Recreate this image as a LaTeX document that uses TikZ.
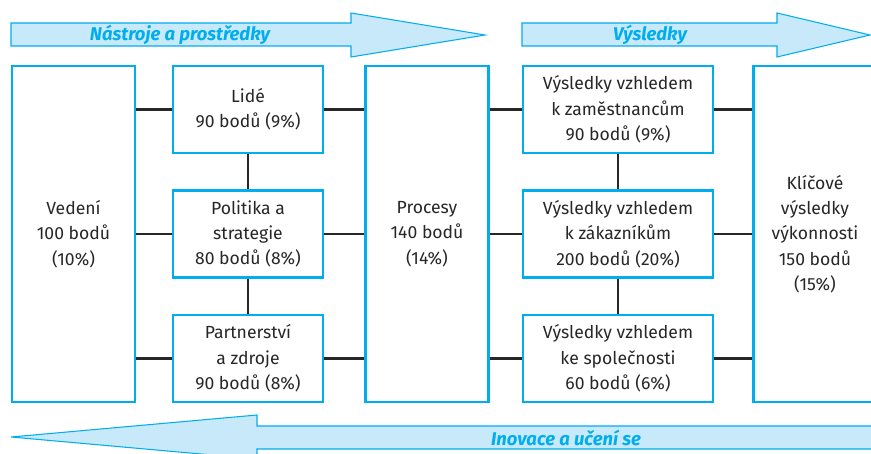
\documentclass[tikz,border=0pt]{standalone}
\usepackage{fontspec}
\setmainfont{Fira Sans}
\usetikzlibrary{positioning}

\definecolor{efqmcyan}{RGB}{0,174,239}
\definecolor{efqmfill}{RGB}{199,233,250}
\definecolor{efqmtext}{RGB}{40,38,38}

\begin{document}
\begin{tikzpicture}[
		crit/.style={draw=efqmcyan, line width=1.4pt, fill=white, align=center, text=efqmtext,
			inner sep=0pt, font=\fontsize{10}{14.4}\selectfont},
		tall/.style={crit, minimum width=2.46cm, minimum height=6.72cm},
		small/.style={crit, minimum width=3.0cm, minimum height=1.74cm},
		wide/.style={crit, minimum width=3.8cm, minimum height=1.74cm},
		link/.style={draw=efqmtext, line width=1.3pt},
		band/.style={draw=efqmcyan, line width=0.6pt, fill=efqmfill},
		bandtext/.style={text=efqmcyan, font=\fontsize{10.5}{12}\selectfont\bfseries\itshape}
	]
		\useasboundingbox (0, 0) rectangle (17.42, 9.06);
		\clip (0, 0) rectangle (17.42, 9.06);
		
		% block arrows
		\draw[band] (0.22, 8.14) -- (0.22, 8.60) -- (7.02, 8.60) -- (7.02, 8.80) -- (9.70, 8.36) -- (7.02, 7.92) -- (7.02, 8.14) -- cycle;
		\draw[band] (10.44, 8.14) -- (10.44, 8.60) -- (15.54, 8.60) -- (15.54, 8.80) -- (17.40, 8.36) -- (15.54, 7.92) -- (15.54, 8.14) -- cycle;
		\draw[band] (17.70, 0.54) -- (5.14, 0.54) -- (5.14, 0.76) -- (0.22, 0.32) -- (5.14, -0.12) -- (5.14, 0.08) -- (17.70, 0.08);
		
		\node[bandtext] (tools) at (3.60, 8.36) {Nástroje a prostředky};
		\node[bandtext] (results) at (13.00, 8.36) {Výsledky};
		\node[bandtext] (learn) at (11.32, 0.31) {Inovace a učení se};
		
		% enablers
		\node[tall] (vedeni) at (1.47, 4.38) {Vedení\\100 bodů\\(10\%)};
		\node[small] (lide) at (4.96, 6.87) {Lidé\\90 bodů (9\%)};
		\node[small] (politika) at (4.96, 4.38) {Politika a\\strategie\\80 bodů (8\%)};
		\node[small] (partner) at (4.96, 1.89) {Partnerství\\a zdroje\\90 bodů (8\%)};
		\node[tall] (procesy) at (8.54, 4.38) {Procesy\\140 bodů\\(14\%)};
		
		% results
		\node[wide] (zam) at (12.36, 6.87) {Výsledky vzhledem\\k zaměstnancům\\90 bodů (9\%)};
		\node[wide] (zak) at (12.36, 4.38) {Výsledky vzhledem\\k zákazníkům\\200 bodů (20\%)};
		\node[wide] (spol) at (12.36, 1.89) {Výsledky vzhledem\\ke společnosti\\60 bodů (6\%)};
		\node[tall] (klic) at (16.30, 4.38) {Klíčové\\výsledky\\výkonnosti\\150 bodů\\(15\%)};
		
		\foreach \b in {lide, politika, partner} {
			\draw[link] (\b.west -| vedeni.east) -- (\b.west);
			\draw[link] (\b.east) -- (\b.east -| procesy.west);
		}
		\foreach \b in {zam, zak, spol} {
			\draw[link] (\b.west -| procesy.east) -- (\b.west);
			\draw[link] (\b.east) -- (\b.east -| klic.west);
		}
		\draw[link] (lide) -- (politika);
		\draw[link] (politika) -- (partner);
		\draw[link] (zam) -- (zak);
		\draw[link] (zak) -- (spol);
	\end{tikzpicture}
\end{document}
